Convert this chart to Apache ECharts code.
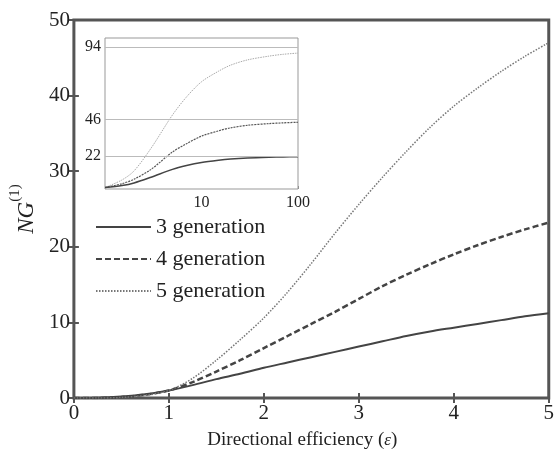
<!DOCTYPE html>
<html lang="en">

<head>
    <meta charset="UTF-8">
    <title>NG(1) vs directional efficiency</title>
    <script src="https://cdn.jsdelivr.net/npm/echarts@6.0.0/dist/echarts.min.js"></script>
    <style>
        * {
            margin: 0;
            padding: 0;
        }

        body {
            background: #fff;
        }

        #chart {
            width: 557px;
            height: 458px;
        }
    </style>
</head>

<body>
    <div id="chart"></div>

    <script>
        // main plot: NG(1) against epsilon
        const eps = [0, 0.25, 0.5, 0.75, 1, 1.25, 1.5, 1.75, 2, 2.25, 2.5, 2.75, 3, 3.25, 3.5, 3.75, 4, 4.25, 4.5, 4.75, 5];
        const gen3 = [0, 0.03, 0.2, 0.5, 1.0, 1.7, 2.5, 3.2, 4.0, 4.7, 5.4, 6.1, 6.8, 7.5, 8.2, 8.8, 9.3, 9.8, 10.3, 10.8, 11.2];
        const gen4 = [0, 0.01, 0.12, 0.42, 1.0, 2.1, 3.5, 5.0, 6.6, 8.2, 9.8, 11.4, 13.1, 14.8, 16.3, 17.7, 19.0, 20.2, 21.3, 22.3, 23.2];
        const gen5 = [0, 0, 0.07, 0.35, 1.0, 2.6, 5.0, 7.7, 10.6, 14.0, 17.8, 21.8, 25.6, 29.2, 32.6, 35.8, 38.6, 41.0, 43.2, 45.2, 47.0];

        // inset: log epsilon axis from 1 to 100
        const epsLog = [1, 1.5, 2, 3, 5, 7, 10, 15, 20, 30, 50, 70, 100];
        const inset3 = [1, 2.3, 4, 7.8, 13, 15.5, 17.5, 19, 19.8, 20.5, 21, 21.2, 21.4];
        const inset4 = [1, 3.5, 6.5, 13, 24.5, 30, 35, 38.5, 40.5, 42.2, 43.3, 43.8, 44.2];
        const inset5 = [1, 6, 12, 27, 49, 61, 71, 78, 82, 85.5, 88, 89.2, 90];
        const insetTicks = [22, 46, 94];

        const names = ['3 generation', '4 generation', '5 generation'];

        const pairs = (xs, ys) => xs.map((x, i) => [x, ys[i]]);
        const serif = 'Liberation Serif';

        const chart = echarts.init(document.getElementById('chart'));

        const tickStyle = { inside: true, length: 5, lineStyle: { color: '#555', width: 2 } };

        const option = {
            animation: false,
            backgroundColor: '#fff',
            textStyle: { fontFamily: serif },
            grid: [
                { left: 70, top: 20, right: 5, bottom: 60, show: true, borderColor: '#555', borderWidth: 3 },
                { left: 105, top: 38, width: 193, height: 151, show: true, backgroundColor: '#fff', borderColor: '#999', borderWidth: 1, z: 3 }
            ],
            legend: {
                data: names,
                orient: 'vertical',
                left: 90,
                top: 211,
                itemWidth: 55,
                itemHeight: 14,
                itemGap: 10,
                itemStyle: { opacity: 0 },
                textStyle: { fontFamily: serif, fontSize: 22, color: '#222' }
            },
            xAxis: [
                {
                    gridIndex: 0, type: 'value', min: 0, max: 5, interval: 1,
                    axisLine: { show: false }, axisTick: tickStyle, splitLine: { show: false },
                    axisLabel: { fontFamily: serif, fontSize: 21, color: '#222', margin: 5 },
                    name: 'Directional efficiency ({e|ε})',
                    nameLocation: 'middle', nameGap: 33,
                    nameTextStyle: {
                        fontFamily: serif, fontSize: 19, color: '#222', padding: [0, 18, 0, 0],
                        rich: { e: { fontFamily: serif, fontSize: 17, fontStyle: 'italic', color: '#222' } }
                    }
                },
                {
                    gridIndex: 0, type: 'value', min: 0, max: 5, interval: 1, position: 'top',
                    axisLine: { show: false }, axisTick: tickStyle, axisLabel: { show: false }, splitLine: { show: false }
                },
                {
                    gridIndex: 1, type: 'log', logBase: 10, min: 1, max: 100,
                    axisLine: { show: false },
                    axisTick: { inside: true, length: 3, lineStyle: { color: '#888' } },
                    splitLine: { show: false },
                    axisLabel: {
                        fontFamily: serif, fontSize: 16, color: '#222', margin: 6,
                        formatter: v => (v === 1 ? '' : v)
                    }
                }
            ],
            yAxis: [
                {
                    gridIndex: 0, type: 'value', min: 0, max: 50, interval: 10,
                    axisLine: { show: false }, axisTick: tickStyle, splitLine: { show: false },
                    axisLabel: { fontFamily: serif, fontSize: 21, color: '#222', margin: 4 },
                    name: '{i|NG}{s|(1)}',
                    nameLocation: 'middle', nameGap: 34, nameRotate: 90,
                    nameTextStyle: {
                        rich: {
                            i: { fontFamily: serif, fontSize: 23, fontStyle: 'italic', color: '#222', lineHeight: 30, verticalAlign: 'bottom' },
                            s: { fontFamily: serif, fontSize: 15, color: '#222', lineHeight: 30, verticalAlign: 'top' }
                        }
                    }
                },
                {
                    gridIndex: 0, type: 'value', min: 0, max: 50, interval: 10, position: 'right',
                    axisLine: { show: false }, axisTick: tickStyle, axisLabel: { show: false }, splitLine: { show: false }
                },
                {
                    gridIndex: 1, type: 'value', min: 0, max: 100,
                    axisLine: { show: false },
                    axisTick: { show: false },
                    splitLine: { show: false },
                    axisLabel: { customValues: insetTicks, fontFamily: serif, fontSize: 16, color: '#222', margin: 4 }
                }
            ],
            series: [
                {
                    name: names[0], type: 'line', xAxisIndex: 0, yAxisIndex: 0, symbol: 'none', smooth: 0.3,
                    lineStyle: { color: '#444', width: 2 }, itemStyle: { color: '#444' },
                    data: pairs(eps, gen3)
                },
                {
                    name: names[1], type: 'line', xAxisIndex: 0, yAxisIndex: 0, symbol: 'none', smooth: 0.3,
                    lineStyle: { color: '#444', width: 2.5, type: [6, 3] }, itemStyle: { color: '#444' },
                    data: pairs(eps, gen4)
                },
                {
                    name: names[2], type: 'line', xAxisIndex: 0, yAxisIndex: 0, symbol: 'none', smooth: 0.3,
                    lineStyle: { color: '#777', width: 1.5, type: [1.5, 1.5] }, itemStyle: { color: '#777' },
                    data: pairs(eps, gen5)
                },
                {
                    name: 'inset 5', type: 'line', xAxisIndex: 2, yAxisIndex: 2, symbol: 'none', smooth: 0.3, z: 4,
                    lineStyle: { color: '#aaa', width: 1, type: [1.5, 1] },
                    markLine: {
                        silent: true, symbol: ['none', 'none'], label: { show: false },
                        lineStyle: { color: '#bbb', type: 'solid', width: 1 },
                        data: insetTicks.map(v => ({ yAxis: v }))
                    },
                    data: pairs(epsLog, inset5)
                },
                {
                    name: 'inset 4', type: 'line', xAxisIndex: 2, yAxisIndex: 2, symbol: 'none', smooth: 0.3, z: 4,
                    lineStyle: { color: '#555', width: 1.2, type: [2, 1] },
                    data: pairs(epsLog, inset4)
                },
                {
                    name: 'inset 3', type: 'line', xAxisIndex: 2, yAxisIndex: 2, symbol: 'none', smooth: 0.3, z: 4,
                    lineStyle: { color: '#444', width: 1.5 },
                    data: pairs(epsLog, inset3)
                }
            ]
        };

        chart.setOption(option);
    </script>
</body>

</html>
